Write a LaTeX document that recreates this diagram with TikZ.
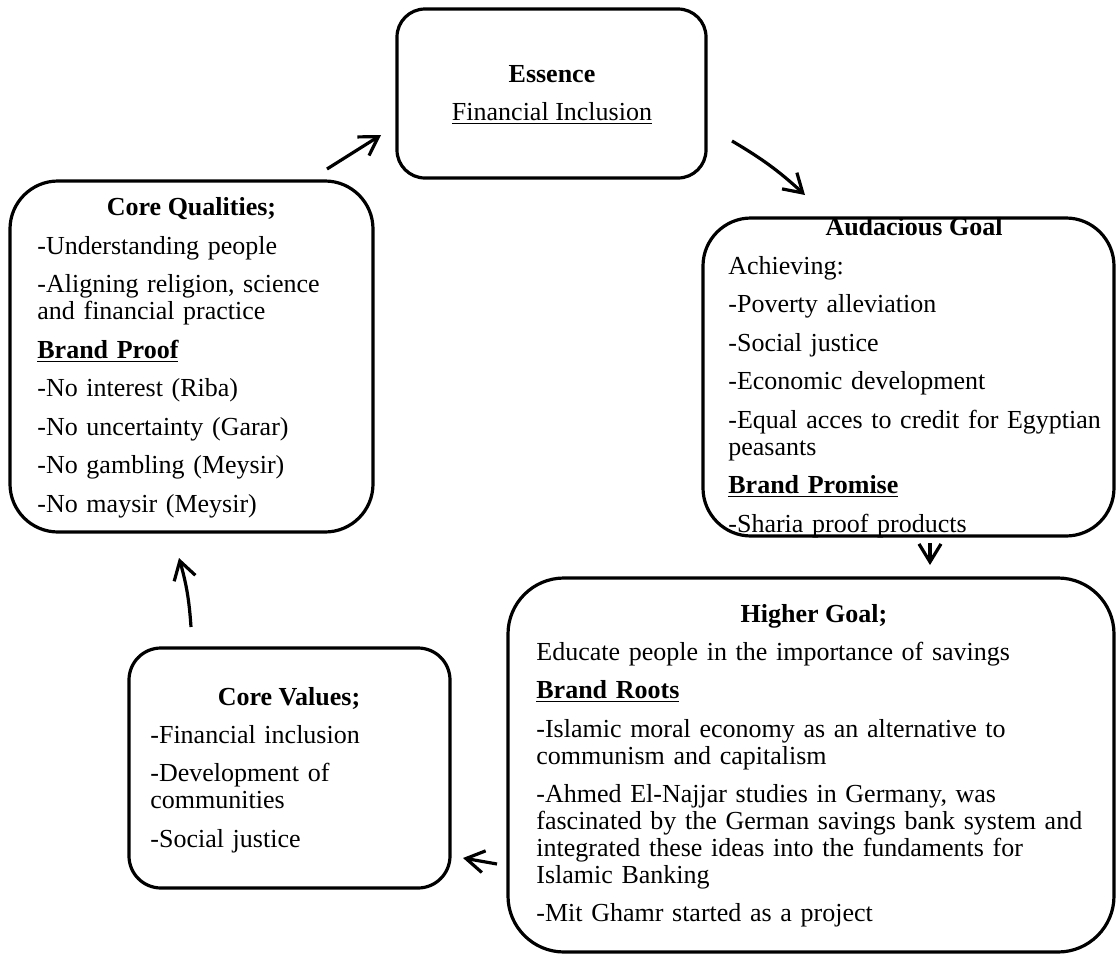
\documentclass[tikz,border=0pt]{standalone}
\usepackage{fontspec}
\setmainfont{Liberation Serif}
\usetikzlibrary{arrows.meta,fit}

\begin{document}
\begin{tikzpicture}[x=0.5pt,y=-0.5pt,>={Straight Barb[length=9pt,width=11pt]},
  box/.style={draw,line width=1.6pt,inner sep=0pt},
  head/.style={anchor=base,inner sep=0pt,font=\fontsize{13}{13.4}\selectfont\bfseries},
  body/.style={anchor=base west,inner sep=0pt,text width=320pt,align=left,font=\fontsize{13}{13.4}\selectfont},
  arr/.style={->,line width=1.6pt}]
 \useasboundingbox[fill=white] (0,0) rectangle (1116,954);
 % --- essence ---
 \node[head] (ess-t) at (552,82) {Essence};
 \node[head,font=\fontsize{13}{13.4}\selectfont] (ess-b) at (552,120) {\underline{Financial Inclusion}};
 \node[box,rounded corners=14pt,fit={(397,9) (706,178)}] (essence) {};
 % --- audacious goal ---
 \node[head] (aud-t) at (914,235) {Audacious Goal};
 \node[body] (aud-b) at (728,274) {Achieving:\\[5.9pt]
   -Poverty alleviation\\[5.9pt]
   -Social justice\\[5.9pt]
   -Economic development\\[5.9pt]
   -Equal acces to credit for Egyptian\\peasants\\[5.9pt]
   \textbf{\underline{Brand Promise}}\\[5.9pt]
   -Sharia proof products};
 \node[box,rounded corners=24pt,fit={(703,218) (1114,536)}] (audacious) {};
 % --- higher goal ---
 \node[head] (high-t) at (814,622) {Higher Goal;};
 \node[body] (high-b) at (536,660) {Educate people in the importance of savings\\[5.9pt]
   \textbf{\underline{Brand Roots}}\\[5.9pt]
   -Islamic moral economy as an alternative to\\communism and capitalism\\[5.9pt]
   -Ahmed El-Najjar studies in Germany, was\\fascinated by the German savings bank system and\\integrated these ideas into the fundaments for\\Islamic Banking\\[5.9pt]
   -Mit Ghamr started as a project};
 \node[box,rounded corners=28pt,fit={(508,578) (1114,952)}] (higher) {};
 % --- core values ---
 \node[head] (val-t) at (289,705) {Core Values;};
 \node[body] (val-b) at (150,743) {-Financial inclusion\\[5.9pt]
   -Development of\\communities\\[5.9pt]
   -Social justice};
 \node[box,rounded corners=16pt,fit={(129,648) (450,888)}] (values) {};
 % --- core qualities ---
 \node[head] (qual-t) at (191.5,215) {Core Qualities;};
 \node[body] (qual-b) at (37,254) {-Understanding people\\[5.9pt]
   -Aligning religion, science\\and financial practice\\[5.9pt]
   \textbf{\underline{Brand Proof}}\\[5.9pt]
   -No interest (Riba)\\[5.9pt]
   -No uncertainty (Garar)\\[5.9pt]
   -No gambling (Meysir)\\[5.9pt]
   -No maysir (Meysir)};
 \node[box,rounded corners=24pt,fit={(10,181) (373,532)}] (qualities) {};
 % --- cycle arrows ---
 \coordinate (q2e-a) at (327,169);  \coordinate (q2e-b) at (381,135);
 \coordinate (e2a-a) at (732,141);  \coordinate (e2a-b) at (805,195);
 \coordinate (a2h-a) at (930,543);  \coordinate (a2h-b) at (930,565);
 \coordinate (h2v-a) at (497,864);  \coordinate (h2v-b) at (463,858);
 \coordinate (v2q-a) at (191,627);  \coordinate (v2q-b) at (179,558);
 \draw[arr] (q2e-a) -- (q2e-b);
 \draw[arr] (e2a-a) to[bend left=6] (e2a-b);
 \draw[arr] (a2h-a) -- (a2h-b);
 \draw[arr] (h2v-a) -- (h2v-b);
 \draw[arr] (v2q-a) to[bend right=6] (v2q-b);
\end{tikzpicture}
\end{document}
